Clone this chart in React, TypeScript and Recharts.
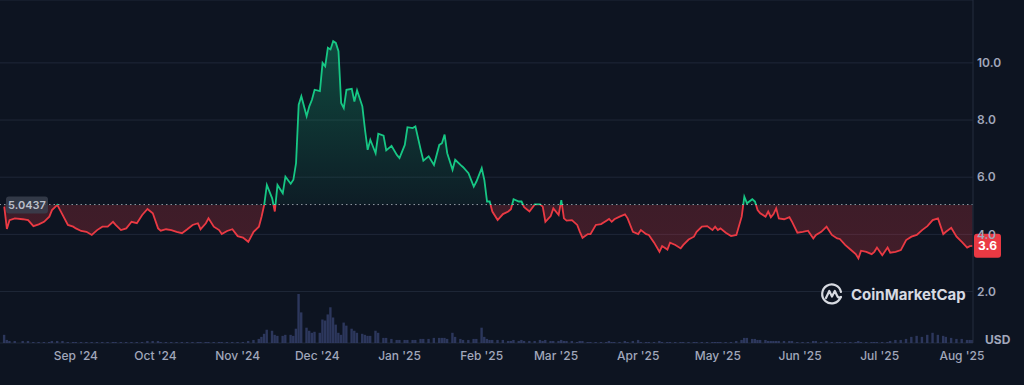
import {
  ComposedChart,
  Area,
  Bar,
  XAxis,
  YAxis,
  CartesianGrid,
  ReferenceLine,
} from "recharts";

// days counted from 1 Sep 2024
const days = [
  -27, -26, -25, -23, -20, -18, -16, -14, -12, -10, -9, -7, -5, -3, -1, 0, 2, 4, 6, 8,
  10, 12, 14, 15, 17, 19, 21, 23, 25, 27, 29, 31, 32, 34, 36, 38, 40, 42, 44, 46,
  47, 49, 50, 52, 54, 55, 57, 59, 61, 63, 65, 67, 69, 70, 71, 72, 74, 75, 76, 78,
  79, 81, 82, 83, 84, 85, 87, 88, 89, 90, 92, 93, 94, 95, 96, 97, 98, 99, 100, 101,
  102, 104, 105, 106, 108, 109, 110, 111, 113, 114, 116, 117, 119, 121, 122, 124, 125, 127, 128, 130,
  131, 133, 135, 137, 138, 139, 140, 142, 143, 145, 146, 148, 150, 151, 153, 154, 155, 156, 157, 159,
  161, 163, 164, 165, 167, 168, 169, 171, 173, 175, 176, 177, 179, 180, 182, 183, 184, 185, 187, 189,
  190, 191, 193, 194, 196, 198, 200, 201, 202, 203, 205, 207, 208, 210, 212, 213, 215, 216, 218, 220,
  221, 223, 224, 226, 228, 229, 231, 233, 234, 236, 238, 240, 241, 242, 243, 245, 247, 249, 251, 252,
  253, 255, 256, 257, 258, 260, 261, 262, 263, 264, 265, 267, 269, 270, 272, 274, 276, 278, 279, 281,
  283, 285, 287, 288, 290, 292, 294, 295, 296, 298, 300, 301, 302, 304, 306, 307, 309, 311, 313, 315,
  317, 319, 321, 323, 325, 327, 328, 330, 332, 334, 336, 337, 338,
];

const prices = [
  4.97, 4.19, 4.5, 4.56, 4.53, 4.5, 4.29, 4.35, 4.44, 4.62, 4.85, 5.03, 4.68, 4.33, 4.27, 4.21, 4.12, 4.09, 3.98, 4.15,
  4.27, 4.27, 4.44, 4.33, 4.15, 4.21, 4.44, 4.39, 4.68, 4.89, 4.74, 4.21, 4.13, 4.18, 4.15, 4.09, 4.04, 4.18, 4.33, 4.39,
  4.18, 4.39, 4.56, 4.27, 4.15, 4.01, 4.12, 4.18, 3.94, 3.89, 3.74, 4.09, 4.27, 4.62, 5.03, 5.73, 5.26, 4.8, 5.73, 5.44,
  6.02, 5.77, 5.91, 6.49, 8.54, 8.83, 8.13, 8.48, 8.71, 9.06, 9.01, 10.0, 9.88, 10.53, 10.47, 10.76, 10.7, 10.41, 8.6, 8.42,
  9.06, 9.09, 8.65, 9.04, 8.48, 7.66, 6.96, 7.31, 6.84, 7.52, 7.45, 6.94, 7.1, 6.78, 6.67, 7.13, 7.75, 7.72, 7.78, 6.96,
  6.58, 6.73, 6.43, 7.13, 7.19, 7.49, 6.84, 6.26, 6.61, 6.43, 6.35, 6.14, 5.67, 5.85, 6.32, 5.9, 5.15, 5.15, 4.8, 4.5,
  4.71, 4.8, 4.88, 5.23, 5.15, 5.15, 4.95, 4.8, 5.05, 5.05, 4.97, 4.44, 4.64, 4.91, 4.68, 5.2, 4.56, 4.48, 4.5, 4.33,
  4.09, 3.88, 4.01, 4.01, 4.33, 4.36, 4.48, 4.54, 4.44, 4.53, 4.62, 4.7, 4.56, 4.09, 4.01, 4.15, 4.01, 3.98, 3.71, 3.39,
  3.59, 3.47, 3.71, 3.63, 3.51, 3.63, 3.82, 3.92, 4.09, 4.27, 4.29, 4.15, 4.27, 4.15, 4.21, 4.06, 3.94, 3.98, 4.62, 5.32,
  5.09, 5.23, 5.15, 4.85, 4.74, 4.62, 4.8, 4.6, 4.71, 4.91, 4.56, 4.53, 4.6, 4.44, 4.06, 4.09, 4.13, 3.86, 3.98, 4.09,
  4.27, 3.98, 3.86, 3.84, 3.63, 3.47, 3.31, 3.16, 3.43, 3.39, 3.31, 3.39, 3.54, 3.27, 3.54, 3.36, 3.39, 3.45, 3.8, 3.92,
  3.98, 4.15, 4.29, 4.5, 4.56, 4.01, 4.09, 4.23, 3.92, 3.74, 3.54, 3.59, 3.6,
];

// volume, relative units
const volumes = [
  8, 3, 2, 2, 2, 2, 1, 1, 1, 1, 2, 2, 2, 1, 1, 1, 1, 1, 1, 1,
  1, 1, 1, 1, 1, 1, 1, 1, 1, 2, 2, 2, 1, 1, 1, 1, 1, 1, 1, 1,
  1, 1, 1, 1, 1, 1, 1, 1, 1, 1, 2, 3, 4, 6, 9, 13, 12, 8, 7, 7,
  8, 8, 7, 14, 48, 30, 15, 12, 10, 11, 10, 23, 22, 28, 35, 25, 18, 10, 8, 20,
  17, 14, 12, 10, 9, 8, 7, 7, 12, 10, 5, 5, 4, 3, 3, 3, 3, 3, 3, 4,
  4, 4, 5, 5, 5, 5, 4, 10, 6, 4, 3, 3, 4, 4, 15, 6, 4, 3, 3, 3,
  3, 2, 2, 3, 2, 3, 2, 2, 2, 3, 2, 3, 2, 2, 2, 3, 2, 2, 2, 1,
  2, 2, 1, 1, 1, 1, 1, 2, 1, 1, 1, 2, 1, 2, 3, 1, 1, 1, 1, 2,
  1, 1, 1, 1, 1, 1, 1, 1, 1, 1, 1, 1, 1, 1, 1, 1, 1, 2, 3, 5,
  5, 4, 4, 3, 3, 3, 2, 2, 2, 2, 2, 2, 2, 2, 1, 1, 1, 2, 2, 1,
  2, 1, 1, 1, 1, 1, 1, 2, 1, 1, 1, 1, 1, 1, 1, 2, 3, 3, 4, 6,
  7, 6, 8, 10, 8, 7, 6, 5, 4, 4, 3, 3, 3,
];

const monthDays = [0, 30, 61, 91, 122, 153, 181, 212, 242, 273, 303, 334];
const monthLabels = [
  "Sep '24", "Oct '24", "Nov '24", "Dec '24", "Jan '25", "Feb '25",
  "Mar '25", "Apr '25", "May '25", "Jun '25", "Jul '25", "Aug '25",
];
const priceTicks = [2, 4, 6, 8, 10];
const openPrice = 5.0437;

const data = days.map((d, i) => ({ day: d, price: prices[i], volume: volumes[i] }));

const lastPrice = prices[prices.length - 1];
const maxP = Math.max(...prices);
const minP = Math.min(...prices);
const off = (maxP - openPrice) / (maxP - minP);

const GREEN = "#16c784";
const RED = "#ea3943";
const BG = "#0d1421";
const TICK = "#a1a7bb";

function OpenLabel({ viewBox }: any) {
  const y = viewBox.y;
  return (
    <g>
      <rect x={6} y={y - 8} width={42} height={17} rx={3} fill="#3a404d" fillOpacity={0.85} />
      <text x={27} y={y + 4} textAnchor="middle" fill="#b9bec9" fontSize={11} fontWeight={600} fontFamily="Inter, sans-serif">
        5.0437
      </text>
    </g>
  );
}

function LastLabel({ viewBox }: any) {
  const x = viewBox.x + viewBox.width + 1;
  const y = viewBox.y;
  return (
    <g>
      <rect x={x} y={y - 12} width={27} height={24} rx={3} fill={RED} />
      <text x={x + 13.5} y={y + 4.5} textAnchor="middle" fill="#fff" fontSize={12} fontWeight={700} fontFamily="Inter, sans-serif">
        {String(lastPrice)}
      </text>
    </g>
  );
}

export default function App() {
  return (
    <div style={{ position: "absolute", left: 0, top: 0, width: 1024, height: 385, background: BG, overflow: "hidden" }}>
      <ComposedChart width={1024} height={385} data={data} margin={{ top: 0, right: 2, bottom: 0, left: 0 }}>
        <defs>
          <linearGradient id="strokeGrad" x1="0" y1="0" x2="0" y2="1">
            <stop offset={off} stopColor={GREEN} />
            <stop offset={off} stopColor={RED} />
          </linearGradient>
          <linearGradient id="fillGrad" x1="0" y1="0" x2="0" y2="1">
            <stop offset={0} stopColor={GREEN} stopOpacity={0.3} />
            <stop offset={off} stopColor={GREEN} stopOpacity={0.05} />
            <stop offset={off} stopColor={RED} stopOpacity={0.22} />
            <stop offset={1} stopColor={RED} stopOpacity={0.24} />
          </linearGradient>
        </defs>
        <CartesianGrid vertical={false} stroke="#1f2738" />
        <XAxis
          dataKey="day"
          type="number"
          domain={[-28.6, 338.2]}
          allowDataOverflow
          ticks={monthDays}
          tickFormatter={(v: number) => monthLabels[monthDays.indexOf(v)]}
          axisLine={false}
          tickLine={false}
          height={42}
          tick={{ fill: TICK, fontSize: 12, fontWeight: 500, fontFamily: "Inter, sans-serif" }}
        />
        <YAxis
          orientation="right"
          width={49}
          domain={[0.2, 12.2]}
          ticks={priceTicks}
          tickFormatter={(v: number) => v.toFixed(1)}
          axisLine={{ stroke: "#252d3e" }}
          tickLine={false}
          tickSize={4}
          tickMargin={0}
          tick={{ fill: TICK, fontSize: 12, fontWeight: 600, fontFamily: "Inter, sans-serif", textAnchor: "start" }}
        />
        <YAxis yAxisId="vol" hide domain={[0, 336]} />
        <Bar yAxisId="vol" dataKey="volume" barSize={4} fill="#34406b" fillOpacity={0.8} isAnimationActive={false} />
        <Area
          type="linear"
          dataKey="price"
          baseValue={openPrice}
          stroke="url(#strokeGrad)"
          strokeWidth={1.8}
          fill="url(#fillGrad)"
          fillOpacity={1}
          dot={false}
          activeDot={false}
          isAnimationActive={false}
        />
        <ReferenceLine y={openPrice} stroke="#c9ced8" strokeOpacity={0.7} strokeDasharray="1.5 3" label={<OpenLabel />} />
        <ReferenceLine y={lastPrice} stroke="none" strokeOpacity={0} label={<LastLabel />} />
      </ComposedChart>
      <div style={{ position: "absolute", left: 820, top: 282, display: "flex", alignItems: "center", gap: 7, color: "#d7dae1", fontFamily: "Inter, sans-serif", fontWeight: 700, fontSize: 15 }}>
        <svg width={24} height={24} viewBox="0 0 24 24">
          <path d="M20.5 15.5 A9.5 9.5 0 1 1 21 10" fill="none" stroke="#d7dae1" strokeWidth={2.2} strokeLinecap="round" />
          <path d="M6 16 L9.3 9 L12 14.5 L14.8 9 L17.5 14.5 Q19 16.5 21 15" fill="none" stroke="#d7dae1" strokeWidth={2.2} strokeLinejoin="round" strokeLinecap="round" />
        </svg>
        <span>CoinMarketCap</span>
      </div>
      <div style={{ position: "absolute", left: 985, top: 332, color: TICK, fontFamily: "Inter, sans-serif", fontWeight: 700, fontSize: 12 }}>
        USD
      </div>
    </div>
  );
}
